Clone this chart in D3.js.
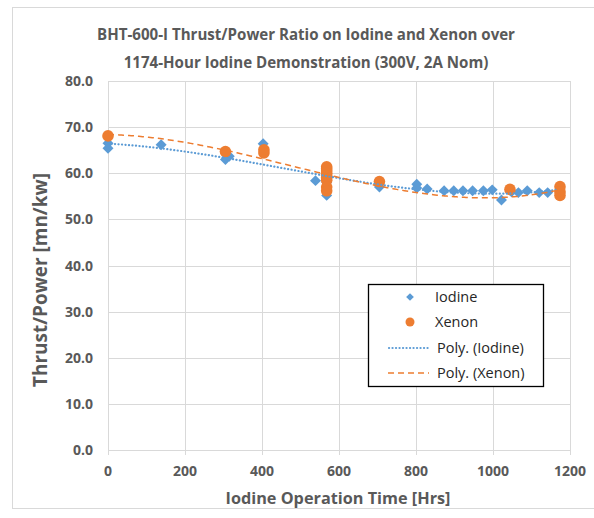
<!DOCTYPE html>
<html>
<head>
<meta charset="utf-8">
<script src="https://cdn.jsdelivr.net/npm/d3@7"></script>
<style>
  body { margin: 0; background: #fff; }
  svg { display: block; font-family: "Open Sans", "Noto Sans", sans-serif; }
</style>
</head>
<body>
<div id="chart"></div>
<script>
// values: [hours, thrust/power]
const iodine = [
  [0, 66.5], [0, 65.4], [138, 66.2], [305, 63.0], [315, 63.7], [403, 66.4],
  [539, 58.4], [568, 55.2], [568, 58.0], [705, 57.0], [802, 57.6], [802, 56.8],
  [829, 56.6], [873, 56.2], [898, 56.2], [922, 56.2], [947, 56.2], [975, 56.2],
  [998, 56.4], [1022, 54.2], [1048, 56.0], [1066, 55.8], [1089, 56.2],
  [1120, 55.8], [1142, 55.8], [1174, 55.8]
];
const xenon = [
  [0, 68.1], [305, 64.7], [405, 65.1], [405, 64.4],
  [568, 61.4], [568, 61.0], [568, 60.5], [568, 60.0], [568, 59.5], [568, 59.0],
  [568, 58.5], [568, 57.0], [568, 56.2],
  [705, 58.2], [1044, 56.5], [1174, 57.1], [1174, 56.0], [1174, 55.2]
];
const xTicks = [0, 200, 400, 600, 800, 1000, 1200];
const yTicks = [0, 10, 20, 30, 40, 50, 60, 70, 80];
const titleLines = ["BHT-600-I Thrust/Power Ratio on Iodine and Xenon over",
                    "1174-Hour Iodine Demonstration (300V, 2A Nom)"];
const legendItems = ["Iodine", "Xenon", "Poly. (Iodine)", "Poly. (Xenon)"];

const W = 594, H = 518;
const blue = "#5b9bd5", orange = "#ed7d31", grey = "#595959", grid = "#d9d9d9";
const plot = {left: 108, right: 570, top: 81, bottom: 450};

const svg = d3.select("#chart").append("svg")
  .attr("width", W).attr("height", H);

// outer chart border
svg.append("rect")
  .attr("x", 12.5).attr("y", 7.5).attr("width", 600).attr("height", 501)
  .attr("fill", "none").attr("stroke", grid);

const x = d3.scaleLinear().domain([0, 1200]).range([plot.left, plot.right]);
const y = d3.scaleLinear().domain([0, 80]).range([plot.bottom, plot.top]);

// gridlines
svg.append("g")
  .selectAll("line").data(yTicks).join("line")
    .attr("x1", plot.left).attr("x2", plot.right)
    .attr("y1", d => Math.round(y(d)) + 0.5).attr("y2", d => Math.round(y(d)) + 0.5)
    .attr("stroke", grid);
svg.append("g")
  .selectAll("line").data(xTicks).join("line")
    .attr("x1", d => Math.round(x(d)) + 0.5).attr("x2", d => Math.round(x(d)) + 0.5)
    .attr("y1", plot.top).attr("y2", plot.bottom + 5)
    .attr("stroke", grid);

// tick labels
svg.append("g")
  .attr("font-size", 14).attr("font-weight", "bold").attr("fill", grey)
  .attr("text-anchor", "end")
  .selectAll("text").data(yTicks).join("text")
    .attr("x", 93).attr("y", d => y(d)).attr("dy", "0.36em")
    .text(d3.format(".1f"));
svg.append("g")
  .attr("font-size", 14).attr("font-weight", "bold").attr("fill", grey)
  .attr("text-anchor", "middle")
  .selectAll("text").data(xTicks).join("text")
    .attr("x", d => x(d)).attr("y", 471).attr("dy", "0.36em")
    .text(d => d);

// fit font-size so text spans a target width
function fit(sel, width) {
  const len = sel.node().getComputedTextLength();
  const fs = parseFloat(sel.attr("font-size"));
  sel.attr("font-size", fs * width / len);
}

svg.append("g").attr("fill", grey).attr("font-weight", "bold").attr("text-anchor", "middle")
  .selectAll("text").data(titleLines).join("text")
    .attr("x", 306).attr("y", (d, i) => 35 + i * 28).attr("dy", "0.36em")
    .attr("font-size", 18).text(d => d)
    .each(function(d, i) { fit(d3.select(this), i ? 365 : 418); });

const xl = svg.append("text").attr("x", 338).attr("y", 498).attr("dy", "0.36em")
  .attr("text-anchor", "middle").attr("font-weight", "bold").attr("fill", grey)
  .attr("font-size", 18).text("Iodine Operation Time [Hrs]");
fit(xl, 225);
const yl = svg.append("text").attr("transform", "translate(40,280) rotate(-90)").attr("dy", "0.36em")
  .attr("text-anchor", "middle").attr("font-weight", "bold").attr("fill", grey)
  .attr("font-size", 18).text("Thrust/Power [mn/kw]");
fit(yl, 214);

// least squares polynomial (Excel "Poly." trendline)
function polyfit(pts, order) {
  const n = order + 1;
  const A = Array.from({length: n}, () => new Array(n + 1).fill(0));
  pts.forEach(([px, py]) => {
    const t = px / 1000;
    for (let i = 0; i < n; i++) {
      for (let j = 0; j < n; j++) A[i][j] += Math.pow(t, i + j);
      A[i][n] += py * Math.pow(t, i);
    }
  });
  for (let c = 0; c < n; c++) {
    let p = c;
    for (let r = c + 1; r < n; r++) if (Math.abs(A[r][c]) > Math.abs(A[p][c])) p = r;
    [A[c], A[p]] = [A[p], A[c]];
    for (let r = 0; r < n; r++) {
      if (r === c) continue;
      const f = A[r][c] / A[c][c];
      for (let k = c; k <= n; k++) A[r][k] -= f * A[c][k];
    }
  }
  const coef = A.map((row, i) => row[n] / row[i]);
  return v => coef.reduce((s, cf, i) => s + cf * Math.pow(v / 1000, i), 0);
}

const line = d3.line().x(d => x(d[0])).y(d => y(d[1]));
function trend(pts, order, color, dash, width, cap) {
  const f = polyfit(pts, order);
  const xmax = d3.max(pts, d => d[0]);
  const samples = d3.range(0, xmax + 1, 5).map(v => [v, f(v)]);
  svg.append("path").datum(samples)
    .attr("d", line).attr("fill", "none")
    .attr("stroke", color).attr("stroke-width", width)
    .attr("stroke-dasharray", dash).attr("stroke-linecap", cap);
}

// points
svg.append("g").selectAll("path").data(iodine).join("path")
  .attr("d", d3.symbol().type(d3.symbolSquare).size(60))
  .attr("transform", d => `translate(${x(d[0])},${y(d[1])}) rotate(45)`)
  .attr("fill", blue);
svg.append("g").selectAll("circle").data(xenon).join("circle")
  .attr("cx", d => x(d[0])).attr("cy", d => y(d[1])).attr("r", 5.8)
  .attr("fill", orange);

trend(iodine, 3, blue, "0.1 3.4", 2.2, "round");
trend(xenon, 3, orange, "6 4", 1.5, "butt");

// legend
const lg = svg.append("g");
lg.append("rect").attr("x", 368.5).attr("y", 284.5).attr("width", 175).attr("height", 102)
  .attr("fill", "#fff").attr("stroke", "#000").attr("stroke-width", 1.3);
const rowY = [297, 322, 348, 373];
lg.append("path").attr("d", d3.symbol().type(d3.symbolSquare).size(30))
  .attr("transform", `translate(410,${rowY[0]}) rotate(45)`).attr("fill", blue);
lg.append("circle").attr("cx", 410).attr("cy", rowY[1]).attr("r", 4.5).attr("fill", orange);
lg.append("line").attr("x1", 389).attr("x2", 428).attr("y1", rowY[2]).attr("y2", rowY[2])
  .attr("stroke", blue).attr("stroke-width", 2.2).attr("stroke-dasharray", "0.1 3.4").attr("stroke-linecap", "round");
lg.append("line").attr("x1", 388).attr("x2", 429).attr("y1", rowY[3]).attr("y2", rowY[3])
  .attr("stroke", orange).attr("stroke-width", 1.5).attr("stroke-dasharray", "6 4");
lg.selectAll("text").data(legendItems).join("text")
  .attr("x", (d, i) => i < 2 ? 435 : 437).attr("y", (d, i) => rowY[i]).attr("dy", "0.36em")
  .attr("font-size", 14.5).attr("fill", "#262626").text(d => d);
</script>
</body>
</html>
